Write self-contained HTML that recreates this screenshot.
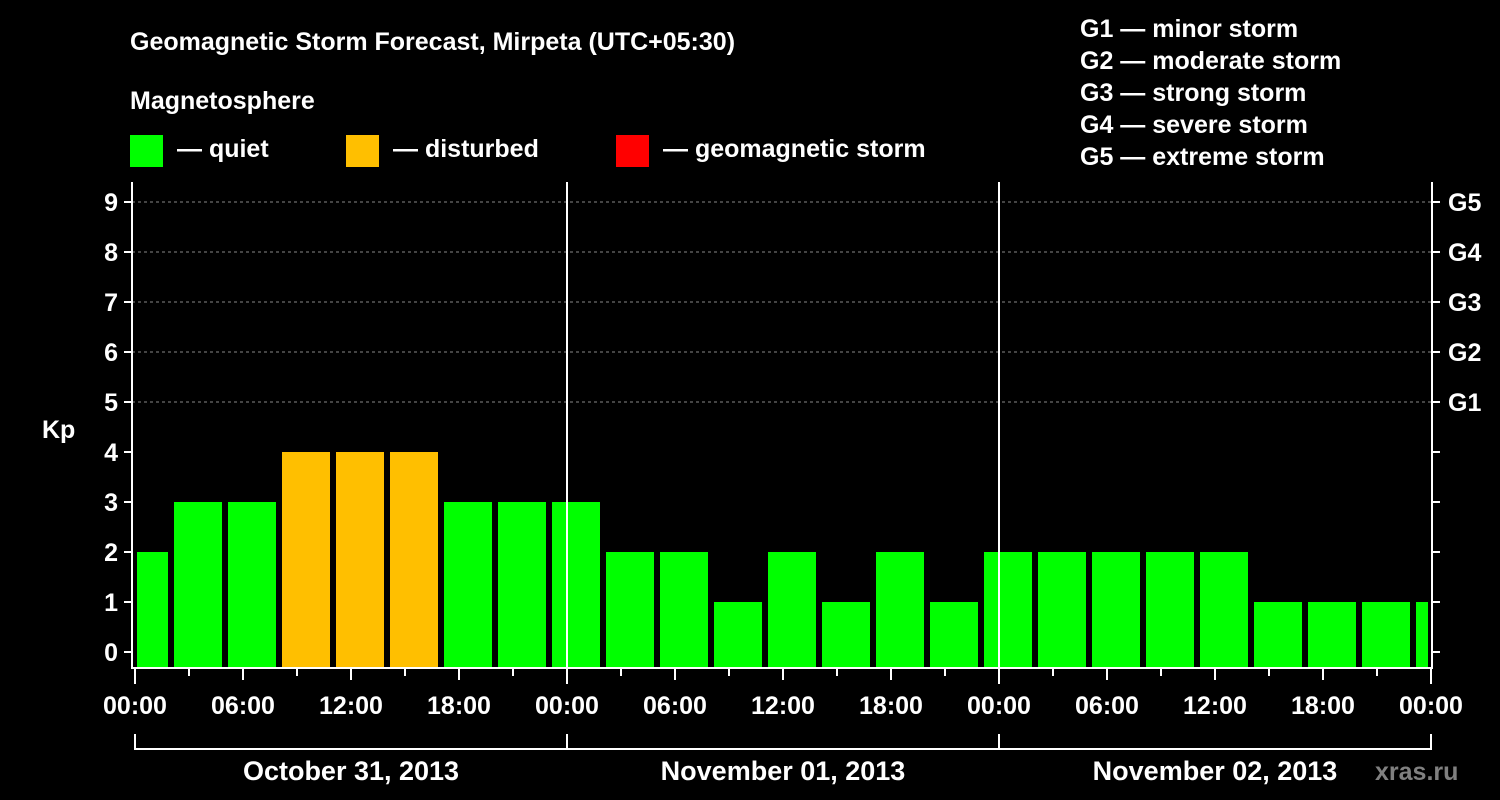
<!DOCTYPE html>
<html><head><meta charset="utf-8"><style>
body{margin:0;background:#000;}
svg{display:block;font-family:"Liberation Sans",Arial,sans-serif;font-weight:bold;}
</style></head><body>
<svg id="c" width="1500" height="800" viewBox="0 0 1500 800">
<rect width="1500" height="800" fill="#000"/>
<text x="130" y="50" fill="#fff" font-size="25">Geomagnetic Storm Forecast, Mirpeta (UTC+05:30)</text>
<text x="130" y="109" fill="#fff" font-size="25">Magnetosphere</text>
<g><rect x="130" y="135" width="33" height="32" fill="#00ff00"/><text x="177" y="157" fill="#fff" font-size="25">— quiet</text></g>
<g><rect x="346" y="135" width="33" height="32" fill="#ffbf00"/><text x="393" y="157" fill="#fff" font-size="25">— disturbed</text></g>
<g><rect x="616" y="135" width="33" height="32" fill="#ff0000"/><text x="663" y="157" fill="#fff" font-size="25">— geomagnetic storm</text></g>
<g fill="#fff" font-size="25">
<text x="1080" y="37">G1 — minor storm</text>
<text x="1080" y="69">G2 — moderate storm</text>
<text x="1080" y="101">G3 — strong storm</text>
<text x="1080" y="133">G4 — severe storm</text>
<text x="1080" y="165">G5 — extreme storm</text>
</g>
<text x="42" y="438" fill="#fff" font-size="25">Kp</text>
<text x="1375" y="780" fill="#808080" font-size="25">xras.ru</text>
<g id="plot"></g>
</svg>
<script>
const kpValues=[2,3,3,4,4,4,3,3,3,2,2,1,2,1,2,1,2,2,2,2,2,1,1,1,1];
const yTicks=[0,1,2,3,4,5,6,7,8,9];
const gLabels=["G1","G2","G3","G4","G5"];
const xTickLabels=["00:00","06:00","12:00","18:00","00:00","06:00","12:00","18:00","00:00","06:00","12:00","18:00","00:00"];
const dayLabels=["October 31, 2013","November 01, 2013","November 02, 2013"];
const NS="http://www.w3.org/2000/svg";
const g=document.getElementById('plot');
const L=132,R=1432,T=182,B=668;
const y=v=>652-v*50;
const x=h=>135+h*18;
function el(t,a){const e=document.createElementNS(NS,t);for(const k in a)e.setAttribute(k,a[k]);g.appendChild(e);return e;}
// grid
yTicks.forEach(v=>{
 if(v>=5){const l=el('line',{x1:L,x2:R,y1:y(v),y2:y(v),stroke:'#888','stroke-dasharray':'3,3','stroke-width':1});
 
 }
 const t1=el('line',{x1:L-8,x2:L,y1:y(v),y2:y(v),stroke:'#fff','stroke-width':2});
 
 
 const t2=el('line',{x1:R,x2:R+8,y1:y(v),y2:y(v),stroke:'#fff','stroke-width':2});
 
 
 const tx=el('text',{x:L-14,y:y(v)+9,fill:'#fff','font-size':25,'text-anchor':'end'});tx.textContent=v;
 
 
});
gLabels.forEach((s,i)=>{
 const tx=el('text',{x:1448,y:y(5+i)+9,fill:'#fff','font-size':25});tx.textContent=s;
 
 
});
// bars
kpValues.forEach((v,k)=>{
 const c=x(3*k+0.5);let x0=Math.max(c-24,137),x1=Math.min(c+24,1428);
 const r=el('rect',{x:x0,y:y(v),width:x1-x0,height:B-y(v),fill:v>=5?'#ff0000':(v>=4?'#ffbf00':'#00ff00')});
 
 
});
// day separators
[24,48].forEach(h=>{
 const l=el('line',{x1:x(h),x2:x(h),y1:T,y2:B,stroke:'#fff','stroke-width':2});
 
 
});
// frame
const fr=el('path',{d:`M${L},${T} V${B} H${R} V${T}`,fill:'none',stroke:'#fff','stroke-width':2});


// x ticks
for(let h=0;h<=72;h+=3){
 const l=el('line',{x1:x(h),x2:x(h),y1:B,y2:B+(h%24==0?16:(h%6==0?12:8)),stroke:'#fff','stroke-width':2});
 
 
}
xTickLabels.forEach((s,i)=>{
 const tx=el('text',{x:x(i*6),y:714,fill:'#fff','font-size':25,'text-anchor':'middle'});tx.textContent=s;
 
 
});
dayLabels.forEach((s,i)=>{
 const p=el('path',{d:`M${x(i*24)},734 V749 H${x(i*24+24)} V734`,fill:'none',stroke:'#fff','stroke-width':2});
 
 
 const tx=el('text',{x:x(i*24+12),y:780,fill:'#fff','font-size':27,'text-anchor':'middle'});tx.textContent=s;
 
 
});
</script>
</body></html>
